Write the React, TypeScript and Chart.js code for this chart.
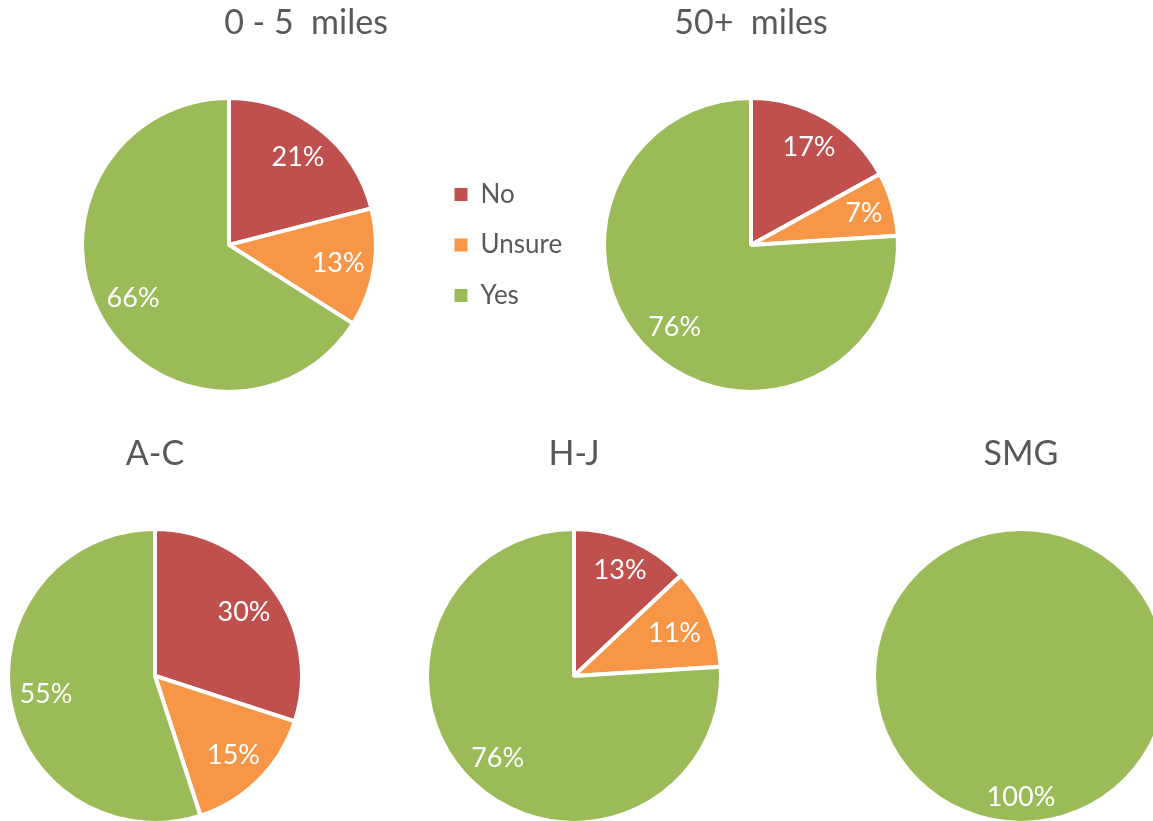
import React, { useEffect, useMemo, useRef } from "react";
import { Chart, registerables } from "chart.js";

Chart.register(...registerables);

// ---- data ----
const responses = ["No", "Unsure", "Yes"];
const sliceColors = ["#C0504D", "#F79646", "#9BBB59"];

const nearTitle = "0 - 5  miles";
const nearValues = [21, 13, 66];

const farTitle = "50+  miles";
const farValues = [17, 7, 76];

const acTitle = "A-C";
const acValues = [30, 15, 55];

const hjTitle = "H-J";
const hjValues = [13, 11, 76];

const smgTitle = "SMG";
const smgValues = [0, 0, 100];

// ---- styling ----
const FONT = "Lato, 'Open Sans', sans-serif";
const TEXT_GREY = "#595959";
const TITLE_SIZE = 34;
const LABEL_SIZE = 27;
const LEGEND_SIZE = 26;
const LEGEND_BOX = 13;
const LEGEND_PAD = 24.5;
const SLICE_BORDER = 4;
const PIE_RADIUS = 147;

type Pad = { top: number; bottom: number };

type PieSpec = {
  title: string;
  values: number[];
  left: number;
  top: number;
  width: number;
  height: number;
  titlePad: Pad;
  withLegend?: boolean;
};

const topRowPad: Pad = { top: 3, bottom: 6 };
const bottomRowPad: Pad = { top: 4, bottom: 56 };

// Percent labels placed just inside the rim along each slice's middle angle.
const insideEndLabels = {
  id: "insideEndLabels",
  afterDatasetsDraw(chart: any) {
    const { ctx } = chart;
    const meta = chart.getDatasetMeta(0);
    const values = chart.data.datasets[0].data as number[];
    ctx.save();
    ctx.font = `normal normal ${LABEL_SIZE}px ${FONT}`;
    ctx.fillStyle = "#ffffff";
    ctx.textAlign = "center";
    ctx.textBaseline = "middle";
    meta.data.forEach((arc: any, i: number) => {
      const v = values[i];
      if (!v) return;
      const { x, y, startAngle, endAngle, outerRadius } = arc.getProps(
        ["x", "y", "startAngle", "endAngle", "outerRadius"],
        true
      );
      const mid = (startAngle + endAngle) / 2;
      const ux = Math.cos(mid);
      const uy = Math.sin(mid);
      const text = `${v}%`;
      const hw = ctx.measureText(text).width / 2;
      const hh = 12;
      const limit = outerRadius - 8;
      let t = limit;
      while (t > 0) {
        const cx = Math.abs(t * ux) + hw;
        const cy = Math.abs(t * uy) + hh;
        if (Math.hypot(cx, cy) <= limit) break;
        t -= 0.5;
      }
      ctx.fillText(text, x + t * ux, y + t * uy + 1);
    });
    ctx.restore();
  },
};

function legendTextWidth(): number {
  const c = document.createElement("canvas").getContext("2d");
  if (!c) return 90;
  c.font = `normal normal ${LEGEND_SIZE}px ${FONT}`;
  return Math.max(...responses.map((r) => c.measureText(r).width));
}

function buildConfig(spec: PieSpec): any {
  const single = spec.values.filter((v) => v > 0).length === 1;
  const plugins: any = {
    title: {
      display: true,
      text: spec.title,
      color: TEXT_GREY,
      font: { family: FONT, size: TITLE_SIZE, weight: "normal", lineHeight: 1.2 },
      padding: spec.titlePad,
    },
    legend: { display: false },
    tooltip: { enabled: false },
  };

  if (spec.withLegend) {
    // Legend sits to the right of the pie; a blank right-hand box keeps the
    // title centred over pie + legend together.
    const rightStack = 154;
    const natural = LEGEND_PAD + LEGEND_BOX + LEGEND_SIZE / 2 + legendTextWidth() + 10;
    const legendW = Math.min(natural, spec.width / 4);
    plugins.legend = {
      display: true,
      position: "right",
      fullSize: false,
      maxWidth: legendW,
      labels: {
        boxWidth: LEGEND_BOX,
        boxHeight: LEGEND_BOX,
        padding: LEGEND_PAD,
        color: TEXT_GREY,
        font: { family: FONT, size: LEGEND_SIZE, weight: "normal" },
        generateLabels: (chart: any) =>
          (Chart.overrides as any).doughnut.plugins.legend.labels
            .generateLabels(chart)
            .map((item: any) => ({ ...item, lineWidth: 0 })),
      },
    };
    plugins.subtitle = {
      display: true,
      position: "right",
      text: "",
      font: { family: FONT, size: 0, lineHeight: 0 },
      padding: { top: Math.max(rightStack - legendW, 0), bottom: 0 },
    };
  }

  return {
    type: "pie",
    data: {
      labels: responses,
      datasets: [
        {
          data: spec.values,
          backgroundColor: sliceColors,
          borderColor: "#ffffff",
          borderWidth: single ? 0 : SLICE_BORDER,
          radius: single ? PIE_RADIUS - SLICE_BORDER / 2 : PIE_RADIUS,
        },
      ],
    },
    options: {
      animation: false,
      responsive: false,
      maintainAspectRatio: false,
      events: [],
      layout: { padding: 0 },
      plugins,
    },
    plugins: [insideEndLabels],
  };
}

function PieChart({ spec }: { spec: PieSpec }) {
  const ref = useRef<HTMLCanvasElement>(null);
  useEffect(() => {
    if (!ref.current) return;
    const chart = new Chart(ref.current, buildConfig(spec));
    return () => chart.destroy();
  }, [spec]);
  return (
    <canvas
      ref={ref}
      width={spec.width}
      height={spec.height}
      style={{
        position: "absolute",
        left: spec.left,
        top: spec.top,
        width: spec.width,
        height: spec.height,
      }}
    />
  );
}

export default function App() {
  const specs: PieSpec[] = useMemo(
    () => [
      { title: nearTitle, values: nearValues, left: 28, top: 0, width: 556, height: 440, titlePad: topRowPad, withLegend: true },
      { title: farTitle, values: farValues, left: 581, top: 0, width: 340, height: 440, titlePad: topRowPad },
      { title: acTitle, values: acValues, left: 5, top: 430, width: 300, height: 391, titlePad: bottomRowPad },
      { title: hjTitle, values: hjValues, left: 424, top: 430, width: 300, height: 391, titlePad: bottomRowPad },
      { title: smgTitle, values: smgValues, left: 871, top: 430, width: 300, height: 391, titlePad: bottomRowPad },
    ],
    []
  );
  return (
    <div
      style={{
        position: "absolute",
        left: 0,
        top: 0,
        width: 1153,
        height: 821,
        overflow: "hidden",
        background: "#ffffff",
      }}
    >
      {specs.map((s) => (
        <PieChart key={s.title} spec={s} />
      ))}
    </div>
  );
}
